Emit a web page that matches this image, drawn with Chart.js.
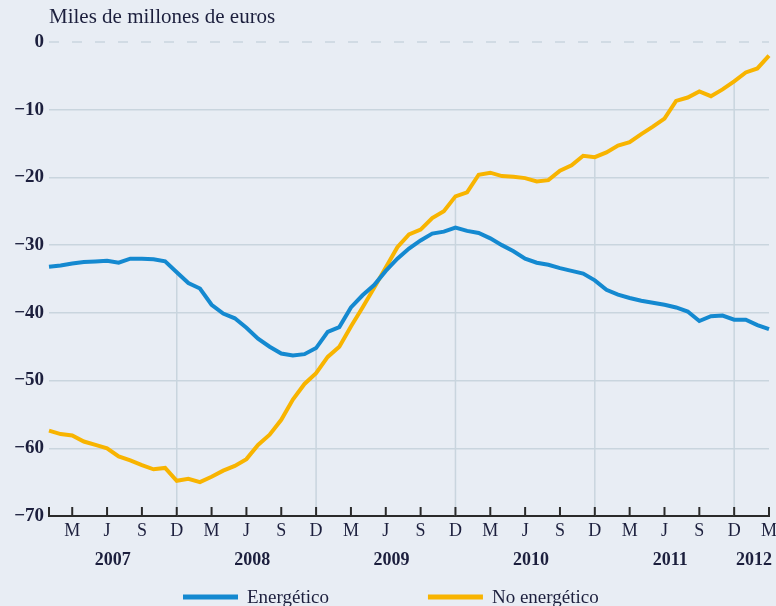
<!DOCTYPE html>
<html>
<head>
<meta charset="utf-8">
<script src="https://cdn.jsdelivr.net/npm/chart.js@4"></script>
<style>
  html, body { margin: 0; padding: 0; background: #e8edf4; }
  #wrap { width: 776px; height: 606px; }
</style>
</head>
<body>
<div id="wrap"><canvas id="saldoChart" width="776" height="606"></canvas></div>
<script>
// Months shown on the category axis (Jan 2007 - Mar 2012)
const months = [
  '2007-01','2007-02','2007-03','2007-04','2007-05','2007-06','2007-07','2007-08','2007-09','2007-10','2007-11','2007-12',
  '2008-01','2008-02','2008-03','2008-04','2008-05','2008-06','2008-07','2008-08','2008-09','2008-10','2008-11','2008-12',
  '2009-01','2009-02','2009-03','2009-04','2009-05','2009-06','2009-07','2009-08','2009-09','2009-10','2009-11','2009-12',
  '2010-01','2010-02','2010-03','2010-04','2010-05','2010-06','2010-07','2010-08','2010-09','2010-10','2010-11','2010-12',
  '2011-01','2011-02','2011-03','2011-04','2011-05','2011-06','2011-07','2011-08','2011-09','2011-10','2011-11','2011-12',
  '2012-01','2012-02','2012-03'
];

// Series (miles de millones de euros)
const energetico = [
  -33.2, -33.0, -32.7, -32.5, -32.4, -32.3, -32.6, -32.0, -32.0, -32.1, -32.4, -34.0,
  -35.6, -36.4, -38.8, -40.1, -40.8, -42.2, -43.8, -45.0, -46.0, -46.3, -46.1, -45.2,
  -42.8, -42.1, -39.2, -37.4, -35.9, -33.8, -32.0, -30.5, -29.3, -28.3, -28.0, -27.4,
  -27.9, -28.2, -29.0, -30.0, -30.9, -32.0, -32.6, -32.9, -33.4, -33.8, -34.2, -35.2,
  -36.6, -37.3, -37.8, -38.2, -38.5, -38.8, -39.2, -39.8, -41.2, -40.5, -40.4, -41.0,
  -41.0, -41.8, -42.4
];
const noEnergetico = [
  -57.4, -57.9, -58.1, -59.0, -59.5, -60.0, -61.2, -61.8, -62.5, -63.1, -62.9, -64.8,
  -64.5, -65.0, -64.2, -63.3, -62.6, -61.6, -59.5, -58.0, -55.8, -52.8, -50.5, -48.9,
  -46.5, -45.0, -42.0, -39.2, -36.3, -33.3, -30.3, -28.4, -27.7, -26.0, -25.0, -22.8,
  -22.2, -19.6, -19.3, -19.8, -19.9, -20.1, -20.6, -20.4, -19.0, -18.2, -16.8, -17.0,
  -16.3, -15.3, -14.8, -13.6, -12.5, -11.3, -8.7, -8.2, -7.3, -8.0, -7.0, -5.8,
  -4.5, -3.9, -2.0
];

// Tick labels
const monthLetters = { '03': 'M', '06': 'J', '09': 'S', '12': 'D' };
const years = ['2007', '2008', '2009', '2010', '2011', '2012'];
const yTicks = [0, -10, -20, -30, -40, -50, -60, -70];
const unitTitle = 'Miles de millones de euros';
const seriesNames = ['Energético', 'No energético'];

const SERIF = '"Liberation Serif", "DejaVu Serif", serif';
const TEXT = '#1c1f3d';
const GRID = '#c9d5de';

// Draws title, zero line, drop lines at December, axis ticks, years and legend
const decorations = {
  id: 'decorations',
  beforeDraw(chart) {
    const ctx = chart.ctx;
    ctx.save();
    ctx.fillStyle = '#e8edf4';
    ctx.fillRect(0, 0, chart.width, chart.height);
    ctx.restore();
  },
  beforeDatasetsDraw(chart) {
    const { ctx, chartArea, scales: { x, y } } = chart;
    ctx.save();
    // dashed zero line
    ctx.strokeStyle = GRID;
    ctx.lineWidth = 1.5;
    ctx.setLineDash([10, 13]);
    ctx.beginPath();
    ctx.moveTo(chartArea.left, y.getPixelForValue(0));
    ctx.lineTo(chartArea.right, y.getPixelForValue(0));
    ctx.stroke();
    ctx.setLineDash([]);
    // vertical lines at each December, from the upper series down to the axis
    months.forEach((m, i) => {
      if (!m.endsWith('-12')) return;
      const top = Math.max(energetico[i], noEnergetico[i]);
      const px = x.getPixelForValue(i);
      ctx.beginPath();
      ctx.moveTo(px, y.getPixelForValue(top));
      ctx.lineTo(px, chartArea.bottom);
      ctx.stroke();
    });
    ctx.restore();
  },
  afterDraw(chart) {
    const { ctx, chartArea, scales: { x } } = chart;
    ctx.save();
    // inward tick marks on the x axis
    ctx.strokeStyle = '#2a2a2a';
    ctx.lineWidth = 2;
    months.forEach((m, i) => {
      const mm = m.slice(5);
      if (!monthLetters[mm] && i !== 0 && i !== months.length - 1) return;
      const px = x.getPixelForValue(i);
      ctx.beginPath();
      ctx.moveTo(px, chartArea.bottom);
      ctx.lineTo(px, chartArea.bottom - 9);
      ctx.stroke();
    });
    // title
    ctx.fillStyle = TEXT;
    ctx.font = '21px ' + SERIF;
    ctx.textAlign = 'left';
    ctx.textBaseline = 'alphabetic';
    ctx.fillText(unitTitle, chartArea.left, 23);
    // year labels, centred under each year's months (kept inside the canvas)
    ctx.font = 'bold 18px ' + SERIF;
    ctx.textAlign = 'center';
    years.forEach(yr => {
      const idx = months.map((m, i) => m.startsWith(yr) ? i : -1).filter(i => i >= 0);
      const mid = (idx[0] + idx[idx.length - 1]) / 2;
      const half = ctx.measureText(yr).width / 2;
      const px = Math.min(x.getPixelForValue(mid), chart.width - 4 - half);
      ctx.fillText(yr, px, 565);
    });
    // legend
    ctx.font = '19px ' + SERIF;
    ctx.textAlign = 'left';
    let lx = 183;
    chart.data.datasets.forEach(ds => {
      ctx.strokeStyle = ds.borderColor;
      ctx.lineWidth = 5;
      ctx.beginPath();
      ctx.moveTo(lx, 597);
      ctx.lineTo(lx + 55, 597);
      ctx.stroke();
      ctx.fillStyle = TEXT;
      ctx.fillText(ds.label, lx + 64, 603);
      lx += 64 + ctx.measureText(ds.label).width + 99;
    });
    ctx.restore();
  }
};

const chart = new Chart(document.getElementById('saldoChart').getContext('2d'), {
  type: 'line',
  data: {
    labels: months,
    datasets: [{
      label: seriesNames[0],
      data: energetico,
      borderColor: '#1489d0',
      borderWidth: 4,
      pointRadius: 0,
      tension: 0
    }, {
      label: seriesNames[1],
      data: noEnergetico,
      borderColor: '#f8b400',
      borderWidth: 4,
      pointRadius: 0,
      tension: 0
    }]
  },
  options: {
    responsive: false,
    animation: false,
    layout: { padding: { top: 42, right: 7, bottom: 0, left: 0 } },
    plugins: { legend: { display: false }, tooltip: { enabled: false } },
    scales: {
      x: {
        type: 'category',
        offset: false,
        afterFit(scale) {
          scale.height = 90;
          scale.paddingLeft = 0;
          scale.paddingRight = 0;
        },
        grid: { display: true, drawOnChartArea: false, drawTicks: false },
        border: { display: true, color: '#2a2a2a', width: 2 },
        ticks: {
          autoSkip: false,
          maxRotation: 0,
          padding: 4,
          color: TEXT,
          font: { family: SERIF, size: 18 },
          callback: (val, i) => monthLetters[months[i].slice(5)] || ''
        }
      },
      y: {
        min: -70,
        max: 0,
        afterFit(scale) { scale.width = 49; },
        afterBuildTicks(scale) { scale.ticks = yTicks.map(v => ({ value: v })); },
        grid: {
          drawTicks: false,
          lineWidth: 1.5,
          color: ctx => (ctx.tick && (ctx.tick.value === 0 || ctx.tick.value === -70)) ? 'rgba(0,0,0,0)' : GRID
        },
        border: { display: false },
        ticks: {
          padding: 5,
          color: TEXT,
          font: { family: SERIF, size: 19, weight: 'bold' },
          callback: v => v === 0 ? '0' : '\u2212' + Math.abs(v)
        }
      }
    }
  },
  plugins: [decorations]
});
</script>
</body>
</html>
